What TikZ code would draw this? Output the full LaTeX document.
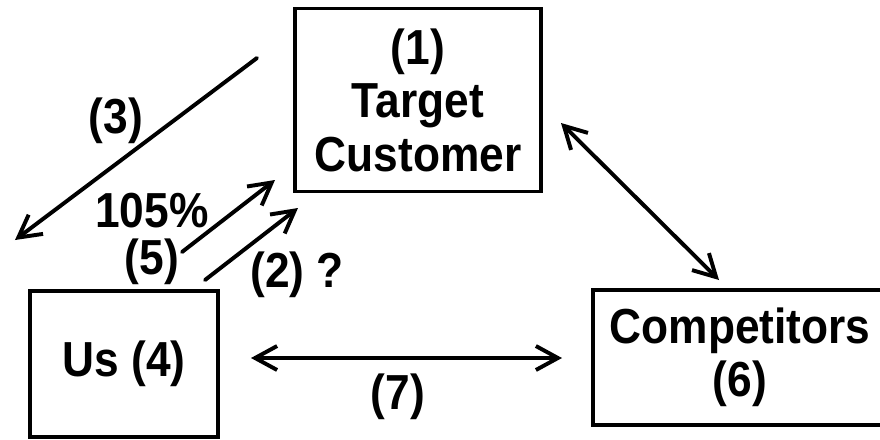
\documentclass[tikz,border=0pt]{standalone}
\usepackage{fontspec}
\setmainfont{Liberation Sans}[FakeStretch=0.9]
\usetikzlibrary{arrows.meta}

\begin{document}
\begin{tikzpicture}[x=0.25mm, y=0.25mm]
\tikzstyle{every node}+=[inner sep=0pt, font=\fontsize{35}{38}\selectfont\bfseries]
\tikzstyle{box}=[draw, line width=2.8pt, align=center]
\tikzstyle{link}=[line width=2.8pt, line cap=round, {Straight Barb[length=5.5mm,width=6mm]}-{Straight Barb[length=5.5mm,width=6mm]}]
\tikzstyle{onelink}=[line width=2.8pt, line cap=round, -{Straight Barb[length=5.5mm,width=6mm]}]
\useasboundingbox (0,0) rectangle (880,-439);
% boxes
\node [box, minimum width=6.15cm, minimum height=4.575cm] (target) at (418,-100) {(1)\\Target\\Customer};
\node [box, minimum width=4.7cm, minimum height=3.65cm] (us) at (124,-364) {Us (4)};
\node [box, minimum width=7.35cm, minimum height=3.375cm] (comp) at (740,-357.5) {Competitors\\(6)};
% arrow ends
\coordinate (a3) at (257,-58);
\coordinate (b3) at (15,-240);
\coordinate (a5) at (182,-252);
\coordinate (b5) at (275,-180);
\coordinate (a2) at (205,-280);
\coordinate (b2) at (298,-208);
\coordinate (ac) at (561,-123);
\coordinate (bc) at (719,-280);
\coordinate (a7) at (251,-358);
\coordinate (b7) at (562,-358);
\draw [onelink] (a3) -- (b3);
\draw [onelink] (a5) -- (b5);
\draw [onelink] (a2) -- (b2);
\draw [link] (ac) -- (bc);
\draw [link] (a7) -- (b7);
% labels
\node (l3) at (116,-121) {(3)};
\node [align=center] (l5) at (152,-239) {105\%\\[-4pt](5)};
\node (l2) at (297,-275) {(2) ?};
\node (l7) at (398,-397) {(7)};
\end{tikzpicture}
\end{document}
